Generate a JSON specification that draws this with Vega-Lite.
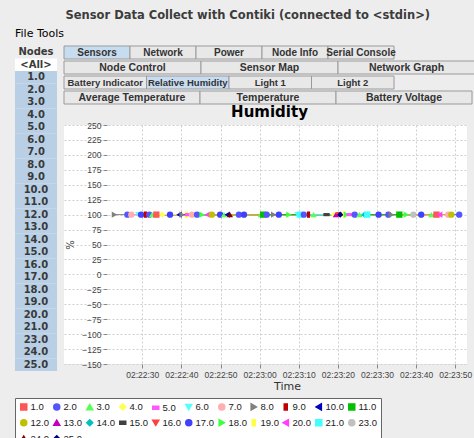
{
  "$schema": "https://vega.github.io/schema/vega-lite/v6.json",
  "background": "#ededed",
  "padding": {"left": 14, "top": 10, "right": 0, "bottom": 0},
  "title": {"text": "Sensor Data Collect with Contiki (connected to <stdin>)", "anchor": "start", "dx": 51, "font": "DejaVu Sans", "fontSize": 11.5, "fontWeight": "bold", "color": "#3c3c3c", "offset": 6},
  "config": {"font": "DejaVu Sans", "view": {"stroke": null}},
  "vconcat": [
    {
      "title": {"text": "File  Tools", "anchor": "start", "fontSize": 11, "fontWeight": "normal", "color": "#000000", "offset": 7},
      "columns": 2,
      "spacing": 6,
      "align": "none",
      "concat": [
        {
          "width": 42,
          "height": 325,
          "data": {"values": [{"label": "Nodes"}, {"label": "<All>"}, {"label": "1.0"}, {"label": "2.0"}, {"label": "3.0"}, {"label": "4.0"}, {"label": "5.0"}, {"label": "6.0"}, {"label": "7.0"}, {"label": "8.0"}, {"label": "9.0"}, {"label": "10.0"}, {"label": "11.0"}, {"label": "12.0"}, {"label": "13.0"}, {"label": "14.0"}, {"label": "15.0"}, {"label": "16.0"}, {"label": "17.0"}, {"label": "18.0"}, {"label": "19.0"}, {"label": "20.0"}, {"label": "21.0"}, {"label": "23.0"}, {"label": "24.0"}, {"label": "25.0"}]},
          "encoding": {"y": {"field": "label", "type": "nominal", "sort": null, "axis": null, "scale": {"paddingInner": 0, "paddingOuter": 0}}},
          "layer": [
            {"mark": {"type": "rect"}, "encoding": {"fill": {"condition": [{"test": "datum.label === '<All>'", "value": "#ffffff"}, {"test": "datum.label === 'Nodes'", "value": "#ededed"}], "value": "#b8cfe5"}}},
            {"mark": {"type": "text", "fontSize": 10, "fontWeight": "bold", "color": "#3a3a3a"}, "encoding": {"text": {"field": "label"}}}
          ]
        },
        {
          "columns": 1,
          "spacing": 0,
          "align": "none",
          "concat": [
            {
              "spacing": 0,
              "vconcat": [
                {
                  "width": 330, "height": 13,
                  "data": {"values": [{"tab": "Sensors"}, {"tab": "Network"}, {"tab": "Power"}, {"tab": "Node Info"}, {"tab": "Serial Console"}]},
                  "encoding": {"x": {"field": "tab", "type": "nominal", "sort": null, "axis": null, "scale": {"paddingInner": 0, "paddingOuter": 0}}},
                  "layer": [
                    {"mark": {"type": "rect", "stroke": "#9a9a9a", "strokeWidth": 1}, "encoding": {"fill": {"condition": {"test": "datum.tab === 'Sensors'", "value": "#c8dcf0"}, "value": "#e8e8e8"}}},
                    {"mark": {"type": "text", "font": "Liberation Sans", "fontSize": 10, "fontWeight": "bold", "color": "#333333"}, "encoding": {"text": {"field": "tab"}}}
                  ]
                },
                {
                  "width": 411, "height": 13,
                  "data": {"values": [{"tab": "Node Control"}, {"tab": "Sensor Map"}, {"tab": "Network Graph"}]},
                  "encoding": {"x": {"field": "tab", "type": "nominal", "sort": null, "axis": null, "scale": {"paddingInner": 0, "paddingOuter": 0}}},
                  "layer": [
                    {"mark": {"type": "rect", "stroke": "#9a9a9a", "strokeWidth": 1, "fill": "#e8e8e8"}},
                    {"mark": {"type": "text", "font": "Liberation Sans", "fontSize": 10.5, "fontWeight": "bold", "color": "#333333"}, "encoding": {"text": {"field": "tab"}}}
                  ]
                }
              ]
            },
            {
              "spacing": 0,
              "vconcat": [
                {
                  "width": 330, "height": 13,
                  "data": {"values": [{"tab": "Battery Indicator"}, {"tab": "Relative Humidity"}, {"tab": "Light 1"}, {"tab": "Light 2"}]},
                  "encoding": {"x": {"field": "tab", "type": "nominal", "sort": null, "axis": null, "scale": {"paddingInner": 0, "paddingOuter": 0}}},
                  "layer": [
                    {"mark": {"type": "rect", "stroke": "#9a9a9a", "strokeWidth": 1}, "encoding": {"fill": {"condition": {"test": "datum.tab === 'Relative Humidity'", "value": "#c8dcf0"}, "value": "#e8e8e8"}}},
                    {"mark": {"type": "text", "font": "Liberation Sans", "fontSize": 9.5, "fontWeight": "bold", "color": "#333333"}, "encoding": {"text": {"field": "tab"}}}
                  ]
                },
                {
                  "width": 408, "height": 13,
                  "data": {"values": [{"tab": "Average Temperature"}, {"tab": "Temperature"}, {"tab": "Battery Voltage"}]},
                  "encoding": {"x": {"field": "tab", "type": "nominal", "sort": null, "axis": null, "scale": {"paddingInner": 0, "paddingOuter": 0}}},
                  "layer": [
                    {"mark": {"type": "rect", "stroke": "#9a9a9a", "strokeWidth": 1, "fill": "#e8e8e8"}},
                    {"mark": {"type": "text", "font": "Liberation Sans", "fontSize": 10.5, "fontWeight": "bold", "color": "#333333"}, "encoding": {"text": {"field": "tab"}}}
                  ]
                }
              ]
            },
            {
              "width": 403,
              "height": 239,
              "title": {"text": "Humidity", "fontSize": 15, "fontWeight": "bold", "color": "#000000", "anchor": "middle", "offset": 1, "dx": 4},
              "view": {"stroke": null, "fill": "#ffffff"},
              "data": {"values": [
                {"node": "8.0", "t": "2014-01-01T02:22:22.900", "v": 100},
                {"node": "2.0", "t": "2014-01-01T02:22:26.200", "v": 100},
                {"node": "7.0", "t": "2014-01-01T02:22:27.200", "v": 100},
                {"node": "6.0", "t": "2014-01-01T02:22:29.000", "v": 100},
                {"node": "17.0", "t": "2014-01-01T02:22:29.700", "v": 100},
                {"node": "9.0", "t": "2014-01-01T02:22:30.800", "v": 100},
                {"node": "2.0", "t": "2014-01-01T02:22:31.800", "v": 100},
                {"node": "3.0", "t": "2014-01-01T02:22:32.500", "v": 100},
                {"node": "1.0", "t": "2014-01-01T02:22:33.600", "v": 100},
                {"node": "4.0", "t": "2014-01-01T02:22:35.100", "v": 100},
                {"node": "17.0", "t": "2014-01-01T02:22:37.100", "v": 100},
                {"node": "10.0", "t": "2014-01-01T02:22:39.400", "v": 100},
                {"node": "8.0", "t": "2014-01-01T02:22:40.200", "v": 100},
                {"node": "19.0", "t": "2014-01-01T02:22:41.300", "v": 100},
                {"node": "5.0", "t": "2014-01-01T02:22:41.700", "v": 100},
                {"node": "7.0", "t": "2014-01-01T02:22:42.700", "v": 100},
                {"node": "2.0", "t": "2014-01-01T02:22:44.000", "v": 100},
                {"node": "18.0", "t": "2014-01-01T02:22:45.300", "v": 100},
                {"node": "20.0", "t": "2014-01-01T02:22:46.600", "v": 100},
                {"node": "12.0", "t": "2014-01-01T02:22:47.800", "v": 100},
                {"node": "17.0", "t": "2014-01-01T02:22:49.900", "v": 100},
                {"node": "3.0", "t": "2014-01-01T02:22:50.900", "v": 100},
                {"node": "10.0", "t": "2014-01-01T02:22:51.700", "v": 100},
                {"node": "24.0", "t": "2014-01-01T02:22:52.400", "v": 100},
                {"node": "2.0", "t": "2014-01-01T02:22:54.700", "v": 100},
                {"node": "17.0", "t": "2014-01-01T02:22:56.000", "v": 100},
                {"node": "3.0", "t": "2014-01-01T02:23:00.300", "v": 100},
                {"node": "11.0", "t": "2014-01-01T02:23:00.900", "v": 100},
                {"node": "2.0", "t": "2014-01-01T02:23:01.800", "v": 100},
                {"node": "8.0", "t": "2014-01-01T02:23:03.600", "v": 100},
                {"node": "17.0", "t": "2014-01-01T02:23:04.900", "v": 100},
                {"node": "18.0", "t": "2014-01-01T02:23:07.500", "v": 100},
                {"node": "6.0", "t": "2014-01-01T02:23:09.700", "v": 100},
                {"node": "21.0", "t": "2014-01-01T02:23:10.300", "v": 100},
                {"node": "2.0", "t": "2014-01-01T02:23:11.300", "v": 100},
                {"node": "9.0", "t": "2014-01-01T02:23:12.500", "v": 100},
                {"node": "3.0", "t": "2014-01-01T02:23:13.800", "v": 100},
                {"node": "15.0", "t": "2014-01-01T02:23:17.100", "v": 100},
                {"node": "4.0", "t": "2014-01-01T02:23:19.000", "v": 100},
                {"node": "13.0", "t": "2014-01-01T02:23:19.500", "v": 100},
                {"node": "16.0", "t": "2014-01-01T02:23:20.200", "v": 100},
                {"node": "25.0", "t": "2014-01-01T02:23:20.600", "v": 100},
                {"node": "19.0", "t": "2014-01-01T02:23:21.700", "v": 100},
                {"node": "18.0", "t": "2014-01-01T02:23:22.200", "v": 100},
                {"node": "5.0", "t": "2014-01-01T02:23:23.000", "v": 100},
                {"node": "2.0", "t": "2014-01-01T02:23:24.300", "v": 100},
                {"node": "3.0", "t": "2014-01-01T02:23:25.500", "v": 100},
                {"node": "14.0", "t": "2014-01-01T02:23:26.800", "v": 100},
                {"node": "21.0", "t": "2014-01-01T02:23:27.500", "v": 100},
                {"node": "17.0", "t": "2014-01-01T02:23:30.400", "v": 100},
                {"node": "2.0", "t": "2014-01-01T02:23:32.900", "v": 100},
                {"node": "8.0", "t": "2014-01-01T02:23:33.700", "v": 100},
                {"node": "11.0", "t": "2014-01-01T02:23:35.700", "v": 100},
                {"node": "18.0", "t": "2014-01-01T02:23:37.500", "v": 100},
                {"node": "23.0", "t": "2014-01-01T02:23:39.300", "v": 100},
                {"node": "17.0", "t": "2014-01-01T02:23:41.300", "v": 100},
                {"node": "3.0", "t": "2014-01-01T02:23:43.900", "v": 100},
                {"node": "1.0", "t": "2014-01-01T02:23:45.200", "v": 100},
                {"node": "20.0", "t": "2014-01-01T02:23:46.000", "v": 100},
                {"node": "7.0", "t": "2014-01-01T02:23:48.200", "v": 100},
                {"node": "12.0", "t": "2014-01-01T02:23:49.000", "v": 100},
                {"node": "2.0", "t": "2014-01-01T02:23:51.000", "v": 100}
              ]},
              "encoding": {
                "x": {"field": "t", "type": "temporal", "title": "Time",
                  "scale": {"domain": [{"year": 2014, "month": 1, "date": 1, "hours": 2, "minutes": 22, "seconds": 10}, {"year": 2014, "month": 1, "date": 1, "hours": 2, "minutes": 23, "seconds": 53}]},
                  "axis": {"format": "%H:%M:%S",
                    "values": [{"year": 2014, "month": 1, "date": 1, "hours": 2, "minutes": 22, "seconds": 30}, {"year": 2014, "month": 1, "date": 1, "hours": 2, "minutes": 22, "seconds": 40}, {"year": 2014, "month": 1, "date": 1, "hours": 2, "minutes": 22, "seconds": 50}, {"year": 2014, "month": 1, "date": 1, "hours": 2, "minutes": 23, "seconds": 0}, {"year": 2014, "month": 1, "date": 1, "hours": 2, "minutes": 23, "seconds": 10}, {"year": 2014, "month": 1, "date": 1, "hours": 2, "minutes": 23, "seconds": 20}, {"year": 2014, "month": 1, "date": 1, "hours": 2, "minutes": 23, "seconds": 30}, {"year": 2014, "month": 1, "date": 1, "hours": 2, "minutes": 23, "seconds": 40}, {"year": 2014, "month": 1, "date": 1, "hours": 2, "minutes": 23, "seconds": 50}],
                    "labelFont": "Liberation Sans", "labelFontSize": 8.5, "labelColor": "#444444", "tickColor": "#888888", "tickSize": 4, "domain": false, "gridDash": [2, 2], "gridColor": "#cfcfcf", "titleFontSize": 11, "titleFontWeight": "normal", "titleColor": "#333333", "titlePadding": 2, "titleX": 223, "labelFlush": false, "labelOverlap": false, "labelPadding": 2}}
              },
              "resolve": {"axis": {"y": "independent"}},
              "layer": [
                {
                  "mark": {"type": "line", "strokeWidth": 1},
                  "encoding": {
                    "y": {"field": "v", "type": "quantitative", "scale": {"domain": [-150, 250], "nice": false},
                      "axis": {"orient": "left", "values": [-150, -125, -100, -75, -50, -25, 0, 25, 50, 75, 100, 125, 150, 175, 200, 225, 250], "labels": false, "ticks": false, "domain": false, "title": null, "grid": true, "gridDash": [2, 2], "gridColor": "#cfcfcf", "zindex": 0}},
                    "color": {"field": "node", "type": "nominal",
                      "scale": {"domain": ["1.0", "2.0", "3.0", "4.0", "5.0", "6.0", "7.0", "8.0", "9.0", "10.0", "11.0", "12.0", "13.0", "14.0", "15.0", "16.0", "17.0", "18.0", "19.0", "20.0", "21.0", "23.0", "24.0", "25.0"],
                        "range": ["#FF5555", "#5555FF", "#55FF55", "#FFFF55", "#FF55FF", "#55FFFF", "#FFAFAF", "#808080", "#C00000", "#0000C0", "#00C000", "#C0C000", "#C000C0", "#00C0C0", "#404040", "#FF4040", "#4040FF", "#40FF40", "#FFFF40", "#FF40FF", "#40FFFF", "#C0C0C0", "#800000", "#000080"]}}
                  }
                },
                {
                  "data": {"values": [{"part": "margin"}]},
                  "mark": {"type": "rect", "fill": "#ededed"},
                  "encoding": {
                    "x": {"datum": {"year": 2014, "month": 1, "date": 1, "hours": 2, "minutes": 22, "seconds": 10}, "type": "temporal"},
                    "x2": {"datum": {"year": 2014, "month": 1, "date": 1, "hours": 2, "minutes": 22, "seconds": 21}},
                    "y": {"datum": 250, "type": "quantitative", "axis": null},
                    "y2": {"datum": -150}
                  }
                },
                {
                  "data": {"values": [{"part": "plot"}]},
                  "mark": {"type": "rect", "fillOpacity": 0, "stroke": "#888888", "strokeWidth": 1},
                  "encoding": {
                    "x": {"datum": {"year": 2014, "month": 1, "date": 1, "hours": 2, "minutes": 22, "seconds": 21}, "type": "temporal"},
                    "x2": {"datum": {"year": 2014, "month": 1, "date": 1, "hours": 2, "minutes": 23, "seconds": 53}},
                    "y": {"datum": 250, "type": "quantitative", "axis": null},
                    "y2": {"datum": -150}
                  }
                },
                {
                  "mark": {"type": "point", "filled": true, "size": 40, "opacity": 1},
                  "encoding": {
                    "y": {"field": "v", "type": "quantitative", "title": "%", "scale": {"domain": [-150, 250], "nice": false},
                      "axis": {"orient": "left", "offset": -43, "zindex": 1, "grid": false, "values": [-150, -125, -100, -75, -50, -25, 0, 25, 50, 75, 100, 125, 150, 175, 200, 225, 250], "labelFont": "Liberation Sans", "labelFontSize": 8.5, "labelColor": "#444444", "tickColor": "#888888", "tickSize": 4, "domain": false, "titleFontSize": 10, "titleFontWeight": "normal", "titleColor": "#333333", "titlePadding": 6, "labelPadding": 2}},
                    "color": {"field": "node", "type": "nominal",
                      "scale": {"domain": ["1.0", "2.0", "3.0", "4.0", "5.0", "6.0", "7.0", "8.0", "9.0", "10.0", "11.0", "12.0", "13.0", "14.0", "15.0", "16.0", "17.0", "18.0", "19.0", "20.0", "21.0", "23.0", "24.0", "25.0"],
                        "range": ["#FF5555", "#5555FF", "#55FF55", "#FFFF55", "#FF55FF", "#55FFFF", "#FFAFAF", "#808080", "#C00000", "#0000C0", "#00C000", "#C0C000", "#C000C0", "#00C0C0", "#404040", "#FF4040", "#4040FF", "#40FF40", "#FFFF40", "#FF40FF", "#40FFFF", "#C0C0C0", "#800000", "#000080"]},
                      "legend": {"title": null, "orient": "bottom", "direction": "horizontal", "columns": 11, "fillColor": "#ffffff", "strokeColor": "#666666", "padding": 4, "offset": 6, "labelFont": "Liberation Sans", "labelFontSize": 9.5, "labelColor": "#222222", "symbolSize": 36, "columnPadding": 1, "rowPadding": 3, "labelOffset": 2}},
                    "shape": {"field": "node", "type": "nominal",
                      "scale": {"domain": ["1.0", "2.0", "3.0", "4.0", "5.0", "6.0", "7.0", "8.0", "9.0", "10.0", "11.0", "12.0", "13.0", "14.0", "15.0", "16.0", "17.0", "18.0", "19.0", "20.0", "21.0", "23.0", "24.0", "25.0"],
                        "range": ["square", "circle", "triangle-up", "diamond", "M-1,-0.5H1V0.5H-1Z", "triangle-down", "circle", "triangle-right", "M-0.5,-1H0.5V1H-0.5Z", "triangle-left", "square", "circle", "triangle-up", "diamond", "M-1,-0.5H1V0.5H-1Z", "triangle-down", "circle", "triangle-right", "M-0.5,-1H0.5V1H-0.5Z", "triangle-left", "square", "circle", "triangle-up", "diamond"]}}
                  }
                }
              ]
            }
          ]
        }
      ]
    }
  ]
}
